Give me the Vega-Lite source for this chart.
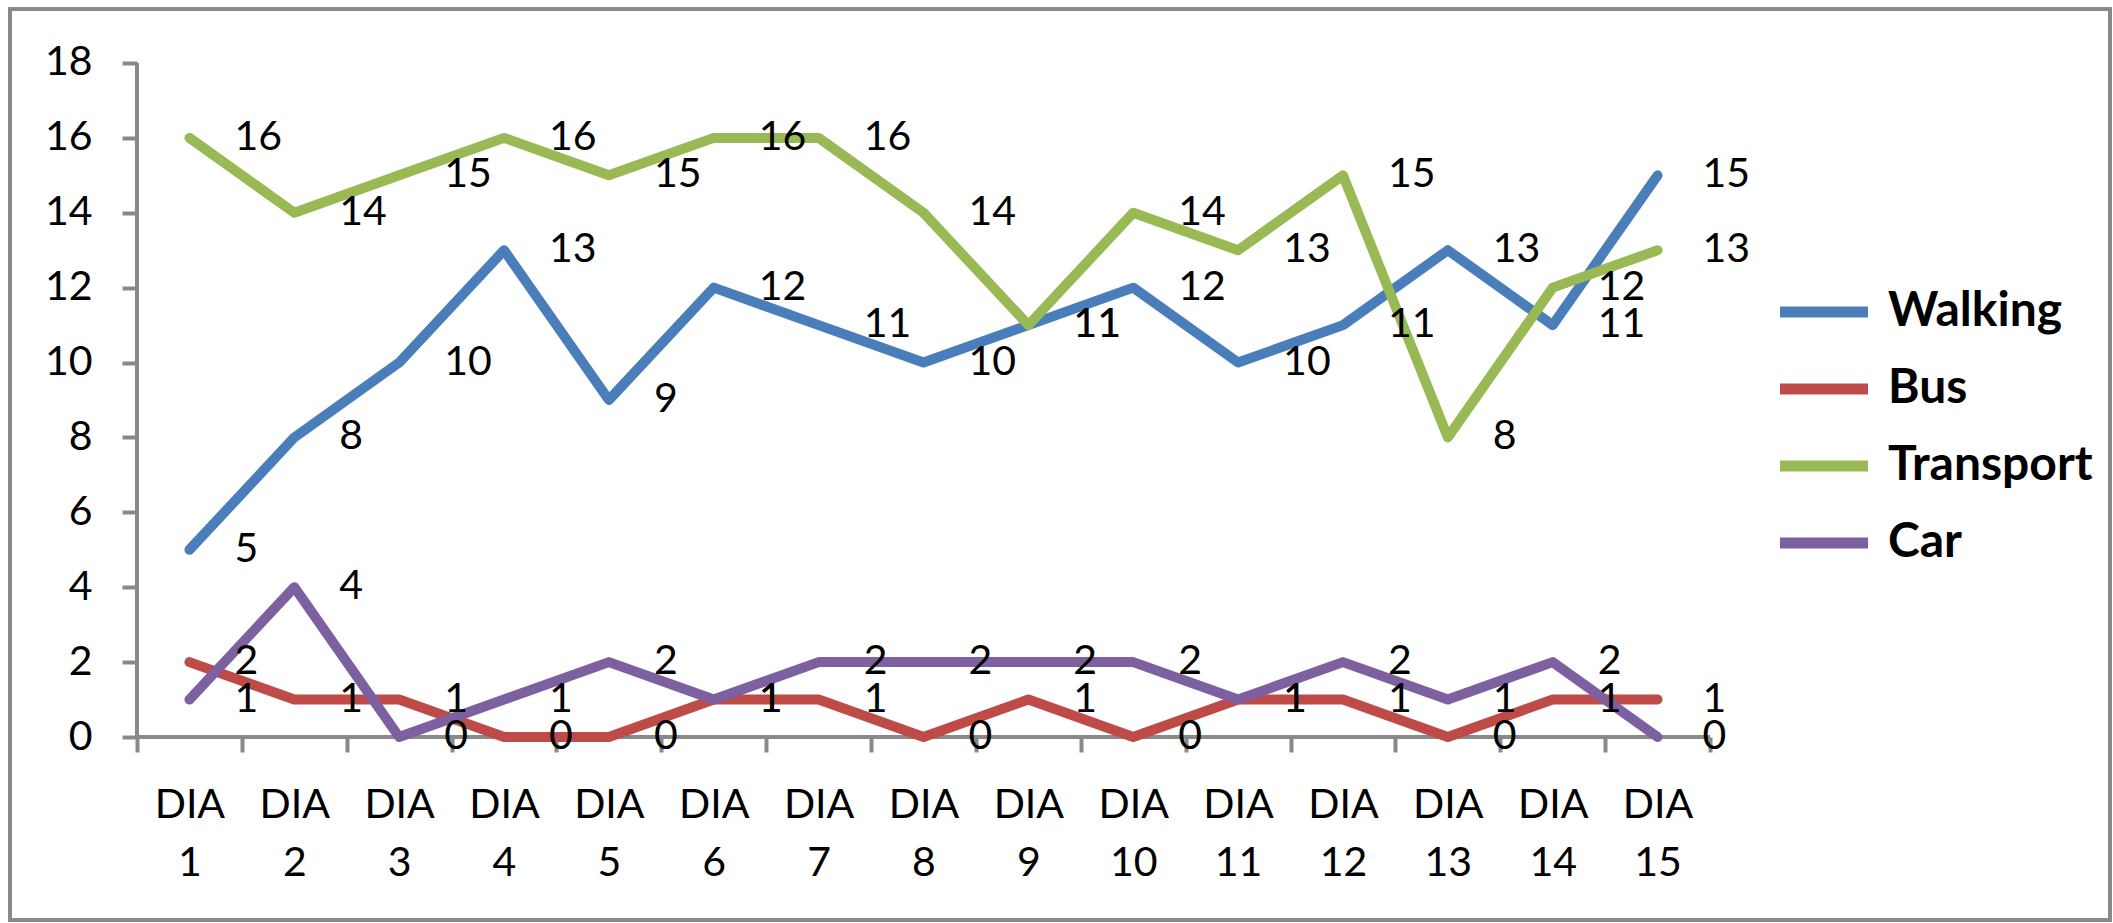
{
  "$schema": "https://vega.github.io/schema/vega-lite/v6.json",
  "width": 2100,
  "height": 911,
  "autosize": {"type": "none"},
  "padding": {"left": 10, "top": 9, "right": 3, "bottom": 3},
  "background": "white",
  "config": {
    "view": {"stroke": "#898989", "strokeWidth": 4},
    "font": "Lato"
  },
  "data": {
    "values": [
      {"day": 1, "mode": "Walking", "value": 5},
      {"day": 2, "mode": "Walking", "value": 8},
      {"day": 3, "mode": "Walking", "value": 10},
      {"day": 4, "mode": "Walking", "value": 13},
      {"day": 5, "mode": "Walking", "value": 9},
      {"day": 6, "mode": "Walking", "value": 12},
      {"day": 7, "mode": "Walking", "value": 11},
      {"day": 8, "mode": "Walking", "value": 10},
      {"day": 9, "mode": "Walking", "value": 11},
      {"day": 10, "mode": "Walking", "value": 12},
      {"day": 11, "mode": "Walking", "value": 10},
      {"day": 12, "mode": "Walking", "value": 11},
      {"day": 13, "mode": "Walking", "value": 13},
      {"day": 14, "mode": "Walking", "value": 11},
      {"day": 15, "mode": "Walking", "value": 15},
      {"day": 1, "mode": "Bus", "value": 2},
      {"day": 2, "mode": "Bus", "value": 1},
      {"day": 3, "mode": "Bus", "value": 1},
      {"day": 4, "mode": "Bus", "value": 0},
      {"day": 5, "mode": "Bus", "value": 0},
      {"day": 6, "mode": "Bus", "value": 1},
      {"day": 7, "mode": "Bus", "value": 1},
      {"day": 8, "mode": "Bus", "value": 0},
      {"day": 9, "mode": "Bus", "value": 1},
      {"day": 10, "mode": "Bus", "value": 0},
      {"day": 11, "mode": "Bus", "value": 1},
      {"day": 12, "mode": "Bus", "value": 1},
      {"day": 13, "mode": "Bus", "value": 0},
      {"day": 14, "mode": "Bus", "value": 1},
      {"day": 15, "mode": "Bus", "value": 1},
      {"day": 1, "mode": "Transport", "value": 16},
      {"day": 2, "mode": "Transport", "value": 14},
      {"day": 3, "mode": "Transport", "value": 15},
      {"day": 4, "mode": "Transport", "value": 16},
      {"day": 5, "mode": "Transport", "value": 15},
      {"day": 6, "mode": "Transport", "value": 16},
      {"day": 7, "mode": "Transport", "value": 16},
      {"day": 8, "mode": "Transport", "value": 14},
      {"day": 9, "mode": "Transport", "value": 11},
      {"day": 10, "mode": "Transport", "value": 14},
      {"day": 11, "mode": "Transport", "value": 13},
      {"day": 12, "mode": "Transport", "value": 15},
      {"day": 13, "mode": "Transport", "value": 8},
      {"day": 14, "mode": "Transport", "value": 12},
      {"day": 15, "mode": "Transport", "value": 13},
      {"day": 1, "mode": "Car", "value": 1},
      {"day": 2, "mode": "Car", "value": 4},
      {"day": 3, "mode": "Car", "value": 0},
      {"day": 4, "mode": "Car", "value": 1},
      {"day": 5, "mode": "Car", "value": 2},
      {"day": 6, "mode": "Car", "value": 1},
      {"day": 7, "mode": "Car", "value": 2},
      {"day": 8, "mode": "Car", "value": 2},
      {"day": 9, "mode": "Car", "value": 2},
      {"day": 10, "mode": "Car", "value": 2},
      {"day": 11, "mode": "Car", "value": 1},
      {"day": 12, "mode": "Car", "value": 2},
      {"day": 13, "mode": "Car", "value": 1},
      {"day": 14, "mode": "Car", "value": 2},
      {"day": 15, "mode": "Car", "value": 0}
    ]
  },
  "encoding": {
    "x": {
      "field": "day", "type": "quantitative",
      "scale": {"domain": [-0.7111, 19.3143], "nice": false, "zero": false},
      "axis": {
        "orient": "bottom", "offset": -183, "title": null,
        "values": [0.5, 1.5, 2.5, 3.5, 4.5, 5.5, 6.5, 7.5, 8.5, 9.5, 10.5, 11.5, 12.5, 13.5, 14.5, 15.5],
        "domain": false, "grid": false,
        "ticks": true, "tickSize": 15, "tickWidth": 4, "tickColor": "#898989",
        "labelExpr": "datum.value < 15 ? ['DIA', '' + (datum.value + 0.5)] : ''",
        "labelOffset": 52.4, "labelPadding": 33, "labelFontSize": 41, "labelFont": "Lato",
        "labelColor": "#000000", "labelLineHeight": 58, "labelOverlap": false,
        "labelBound": false, "labelFlush": false, "labelAngle": 0,
        "labelAlign": "center", "labelBaseline": "top"
      }
    },
    "y": {
      "field": "value", "type": "quantitative",
      "scale": {"domain": [-4.887, 19.442], "nice": false, "zero": false},
      "axis": {
        "orient": "left", "offset": -127, "title": null,
        "values": [0, 2, 4, 6, 8, 10, 12, 14, 16, 18],
        "domain": false, "grid": false,
        "ticks": true, "tickSize": 15, "tickWidth": 4, "tickColor": "#898989",
        "labelPadding": 30, "labelFontSize": 41, "labelFont": "Lato",
        "labelColor": "#000000", "labelBaseline": "middle", "labelOverlap": false,
        "labelBound": false, "labelFlush": false
      }
    }
  },
  "layer": [
    {
      "data": {"values": [{"day": 0.5, "day2": 15.5, "value": 0}]},
      "mark": {"type": "rule", "color": "#898989", "strokeWidth": 4},
      "encoding": {
        "x2": {"field": "day2"}
      }
    },
    {
      "data": {"values": [{"day": 0.5, "value": 0, "value2": 18}]},
      "mark": {"type": "rule", "color": "#898989", "strokeWidth": 4},
      "encoding": {
        "y2": {"field": "value2"}
      }
    },
    {
      "mark": {"type": "line", "strokeWidth": 10, "strokeCap": "round", "strokeJoin": "round"},
      "encoding": {
        "color": {
          "field": "mode", "type": "nominal",
          "scale": {"domain": ["Walking", "Bus", "Transport", "Car"], "range": ["#4A7EBB", "#BE4B48", "#98B954", "#7D60A0"]},
          "legend": {
            "orient": "none", "legendX": 1764.5, "legendY": 253.5, "title": null,
            "padding": 0, "symbolType": "stroke", "symbolSize": 7744, "symbolStrokeWidth": 11,
            "labelFontSize": 48, "labelFontWeight": "bold", "labelFont": "Lato",
            "labelColor": "#000000", "labelOffset": 14.5, "rowPadding": 3,
            "labelBaseline": "middle", "labelLimit": 400
          }
        },
        "order": {"field": "day", "type": "quantitative"}
      }
    },
    {
      "mark": {"type": "text", "align": "left", "baseline": "middle", "dx": 45, "fontSize": 41, "font": "Lato", "color": "#000000"},
      "encoding": {
        "text": {"field": "value", "type": "quantitative"}
      }
    }
  ]
}
